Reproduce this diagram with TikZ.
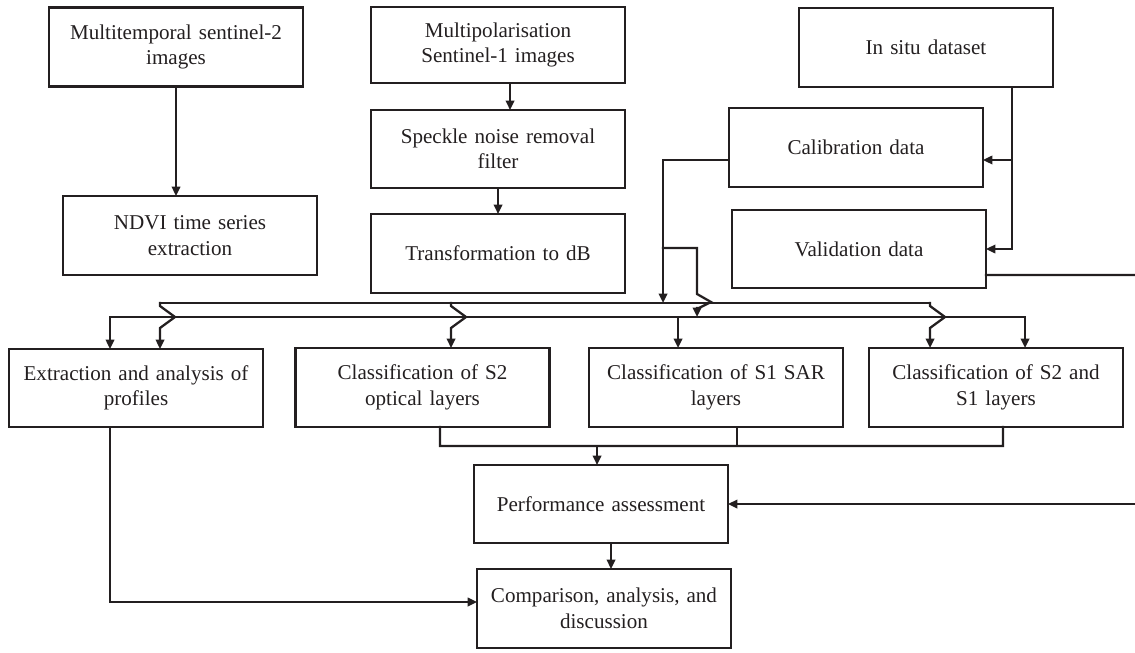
\documentclass[tikz,border=0pt]{standalone}
\usepackage{fontspec}
\setmainfont{Liberation Serif}
\usetikzlibrary{arrows.meta}
\definecolor{ink}{RGB}{35,31,32}

\begin{document}
\begin{tikzpicture}[x=0.02cm,y=-0.02cm,
  box/.style={draw=ink,line width=1.5pt,minimum width=5.08cm,minimum height=1.58cm,
    text width=4.8cm,inner xsep=0.14cm,align=center,outer sep=0pt,text=ink,
    font=\fontsize{12}{14.5}\selectfont},
  link/.style={draw=ink,line width=1.3pt,line cap=rect},
  arr/.style={link,-{Triangle[length=1.9mm,width=1.7mm]}}]
\useasboundingbox (0,0) rectangle (1135,652);

% Input data
\node[box] (s2) at (176,47) {Multitemporal sentinel-2\\images};
\node[box] (ndvi) at (190,235.5) {NDVI time series\\extraction};
\node[box,minimum height=1.52cm] (s1) at (498,45) {Multipolarisation\\Sentinel-1 images};
\node[box,minimum height=1.56cm] (speckle) at (498,149) {Speckle noise removal\\filter};
\node[box] (db) at (498,253.5) {Transformation to dB};
\node[box] (insitu) at (926,47.5) {In situ dataset};
\node[box] (calib) at (856,147.5) {Calibration data};
\node[box,minimum height=1.56cm] (valid) at (859,249) {Validation data};

% Processing
\node[box,minimum height=1.56cm] (prof) at (136,388) {Extraction and analysis of\\profiles};
\node[box] (opt) at (422.5,387.5) {Classification of S2\\optical layers};
\node[box] (sar) at (716,387.5) {Classification of S1 SAR\\layers};
\node[box] (both) at (996,387.5) {Classification of S2 and\\S1 layers};
\node[box,minimum height=1.56cm] (perf) at (601,504) {Performance assessment};
\node[box] (comp) at (604,608.5) {Comparison, analysis, and\\discussion};

% Preprocessing chains
\draw[arr] (s2.south) -- (s2.south |- ndvi.north);
\draw[arr] ([xshift=0.24cm]s1.south) -- ([xshift=0.24cm]s1.south |- speckle.north);
\draw[arr] (speckle.south) -- (db.north);

% In situ split
\coordinate (situ) at ([xshift=1.72cm]insitu.south);
\draw[arr] (situ) |- ([yshift=-0.25cm]calib.east);
\draw[arr] (situ) |- (valid.east);

% Calibration data to the two buses
\coordinate (ub) at (663,303);
\coordinate (fork) at (663,248);
\draw[arr] ([yshift=-0.25cm]calib.west) -| (ub);
\draw[arr] (fork) -- (697,248) -- (697,294) -- (711,302) -- (697,309) -- (697,317);

% Buses
\coordinate (u1) at (160,303);
\coordinate (u2) at (451,303);
\coordinate (u3) at (930,303);
\coordinate (l1) at (110,317);
\coordinate (l2) at (678,317);
\coordinate (l3) at (1025,317);
\draw[link] (u1) -- (u3);
\draw[link] (l1) -- (l3);
\foreach \c/\t in {u1/prof,u2/opt,u3/both}
  \draw[arr] (\c) -- ++(0,3) -- ++(15,11) -- ++(-15,11) -- (\c |- \t.north);
\foreach \c/\t in {l1/prof,l2/sar,l3/both}
  \draw[arr] (\c) -- (\c |- \t.north);

% Collect classifications
\coordinate (col) at (440,446);
\coordinate (cm) at (597,446);
\draw[link] ([xshift=0.35cm]opt.south) -- (col) -| ([xshift=0.14cm]both.south);
\draw[link] ([xshift=0.42cm]sar.south) -- ([xshift=0.42cm]sar.south |- col);
\draw[arr] (cm) -- (cm |- perf.north);

% Assessment and comparison
\coordinate (vout) at (1135,275);
\coordinate (pin) at (1135,504);
\draw[link] ([yshift=-0.52cm]valid.east) -- (vout);
\draw[arr] (pin) -- (perf.east);
\draw[arr] ([xshift=0.2cm]perf.south) -- ([xshift=0.2cm]perf.south |- comp.north);
\draw[arr] ([xshift=-0.52cm]prof.south) |- ([yshift=0.13cm]comp.west);
\end{tikzpicture}
\end{document}
